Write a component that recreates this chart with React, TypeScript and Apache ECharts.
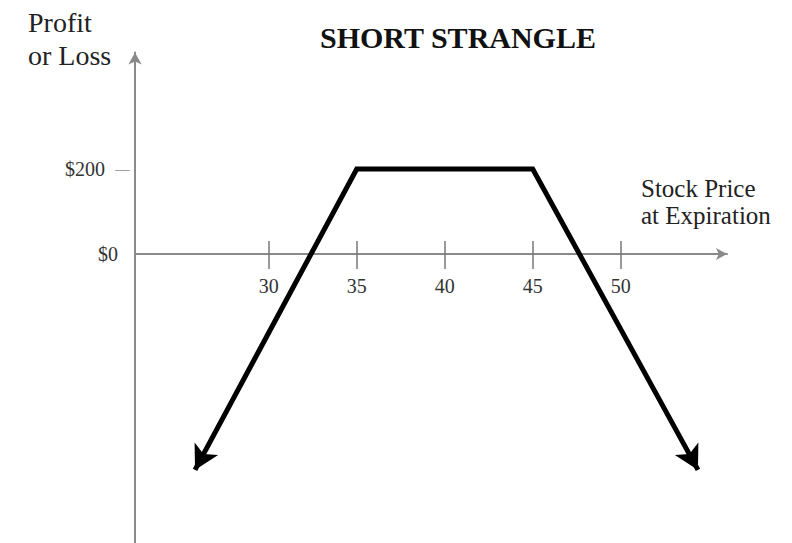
import React, { useEffect, useRef } from "react";
import * as echarts from "echarts";

// Payoff diagram data (stock price at expiration vs. profit or loss)
const stockPrices = [25.81, 35, 45, 54.39];
const profitLoss = [-508, 200, 200, -508];

// Axis tick values and labels
const xTickValues = [30, 35, 40, 45, 50];
const xTickLabels = ["30", "35", "40", "45", "50"];
const yTickValues = [0, 200];
const yTickLabels = ["$0", "$200"];

const titleText = "SHORT STRANGLE";
const yAxisTitle = "Profit\nor Loss";
const xAxisTitle = "Stock Price\nat Expiration";

const SERIF = "'Liberation Serif', 'Times New Roman', serif";
const AXIS_COLOR = "#8a8a8a";

const GRID_TOP = 52.5;
const GRID_BOTTOM_Y = 543;
const ZERO_Y = 254;

export default function App() {
  const ref = useRef<HTMLDivElement>(null);

  useEffect(() => {
    if (!ref.current) return;
    const chart = echarts.init(ref.current, null, { renderer: "svg" });

    const data = stockPrices.map((x, i) => {
      const isEnd = i === 0 || i === stockPrices.length - 1;
      return {
        value: [x, profitLoss[i]],
        symbol: isEnd ? "arrow" : "none",
        symbolRotate: i === 0 ? 151.8 : -151.8,
      };
    });

    const tickLabelMap: Record<number, string> = {};
    xTickValues.forEach((v, i) => (tickLabelMap[v] = xTickLabels[i]));
    const yLabelMap: Record<number, string> = {};
    yTickValues.forEach((v, i) => (yLabelMap[v] = yTickLabels[i]));

    const option: any = {
      animation: false,
      backgroundColor: "#ffffff",
      title: [
        {
          text: titleText,
          left: 320,
          top: 22,
          padding: 0,
          textStyle: {
            fontFamily: SERIF,
            fontSize: 30,
            fontWeight: "bold",
            color: "#111",
            lineHeight: 30,
          },
        },
        {
          text: yAxisTitle,
          left: 28,
          top: 6,
          padding: 0,
          textStyle: {
            fontFamily: SERIF,
            fontSize: 28,
            fontWeight: "normal",
            color: "#222",
            lineHeight: 33,
          },
        },
        {
          text: xAxisTitle,
          left: 641,
          top: 175,
          padding: 0,
          textStyle: {
            fontFamily: SERIF,
            fontSize: 25,
            fontWeight: "normal",
            color: "#222",
            lineHeight: 27,
          },
        },
      ],
      grid: {
        left: 135,
        right: 65,
        top: GRID_TOP,
        bottom: 0,
        containLabel: false,
        outerBoundsMode: "none",
      },
      xAxis: [
        {
          type: "value",
          min: 22.4,
          max: 56.04,
          position: "bottom",
          offset: -(GRID_BOTTOM_Y - ZERO_Y),
          axisLine: {
            show: true,
            onZero: false,
            symbol: ["none", "arrow"],
            symbolSize: [9, 11],
            lineStyle: { color: AXIS_COLOR, width: 2 },
          },
          axisTick: {
            show: true,
            customValues: xTickValues,
            length: 15,
            lineStyle: { color: "#777", width: 1.5 },
          },
          axisLabel: {
            show: true,
            customValues: xTickValues,
            margin: 22,
            fontFamily: SERIF,
            fontSize: 20,
            color: "#333",
            formatter: (v: number) => tickLabelMap[v] ?? "",
          },
          splitLine: { show: false },
        },
        {
          type: "value",
          min: 22.4,
          max: 56.04,
          position: "top",
          offset: -(ZERO_Y - GRID_TOP),
          axisLine: {
            show: false,
            onZero: false,
          },
          axisTick: {
            show: true,
            customValues: xTickValues,
            length: 13,
            lineStyle: { color: "#777", width: 1.5 },
          },
          axisLabel: { show: false },
          splitLine: { show: false },
        },
      ],
      yAxis: {
        type: "value",
        min: -680,
        max: 474,
        axisLine: {
          show: true,
          onZero: false,
          symbol: ["none", "arrow"],
          symbolSize: [10, 12],
          lineStyle: { color: AXIS_COLOR, width: 2 },
        },
        axisTick: { show: false },
        axisLabel: {
          show: true,
          customValues: yTickValues,
          margin: 5,
          fontFamily: SERIF,
          fontSize: 20,
          color: "#333",
          formatter: (v: number) =>
            v === 200 ? `{v|${yLabelMap[v]}}{d|—}` : `{z|${yLabelMap[v] ?? ""}}`,
          rich: {
            v: { fontFamily: SERIF, fontSize: 20, color: "#333" },
            d: {
              fontFamily: SERIF,
              fontSize: 15,
              color: "#555",
              padding: [0, 0, 0, 10],
            },
            z: {
              fontFamily: SERIF,
              fontSize: 20,
              color: "#333",
              padding: [0, 12, 0, 0],
            },
          },
        },
        splitLine: { show: false },
      },
      series: [
        {
          type: "line",
          xAxisIndex: 0,
          data,
          showSymbol: true,
          symbolSize: [20, 24],
          lineStyle: { color: "#000", width: 5, join: "miter" },
          itemStyle: { color: "#000", borderWidth: 0 },
          clip: false,
          z: 5,
        },
      ],
    };

    chart.setOption(option);
    return () => chart.dispose();
  }, []);

  return (
    <div
      ref={ref}
      style={{ position: "absolute", left: 0, top: 0, width: 792, height: 543 }}
    />
  );
}
